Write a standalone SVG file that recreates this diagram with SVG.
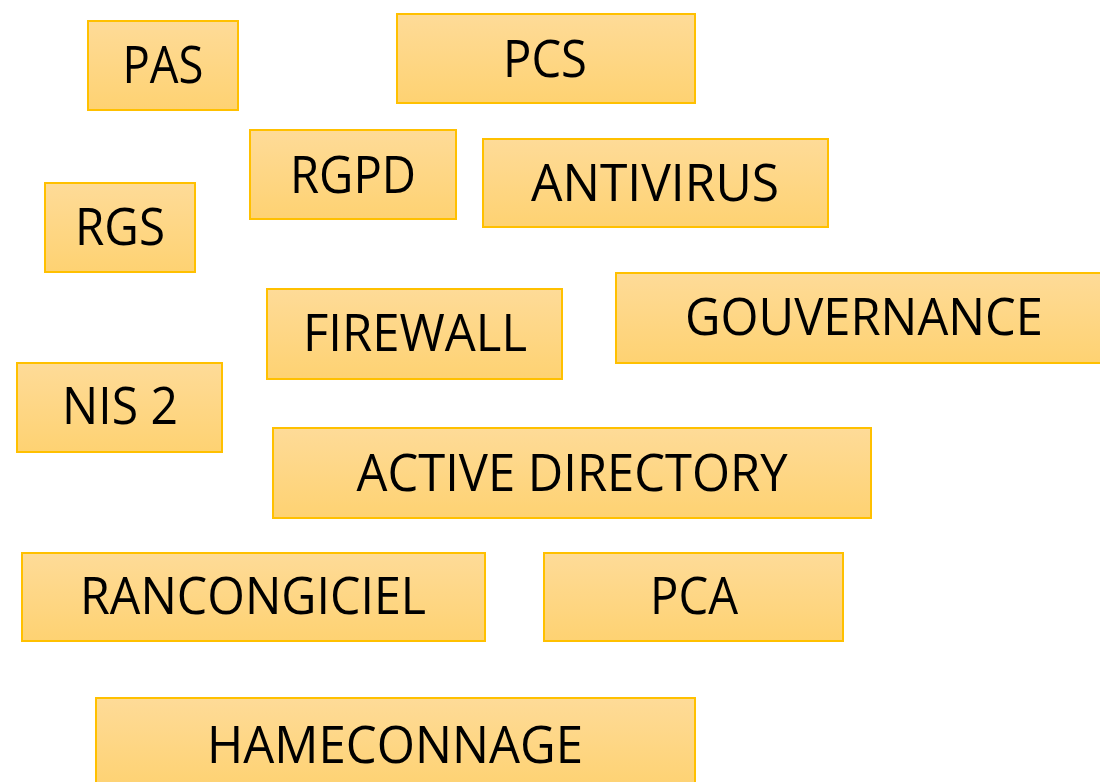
<svg xmlns="http://www.w3.org/2000/svg" width="1100" height="782" viewBox="0 0 1100 782">
<defs>
<linearGradient id="g" x1="0" y1="0" x2="0" y2="1">
<stop offset="0" stop-color="#fedb98"/>
<stop offset="1" stop-color="#fed272"/>
</linearGradient>
<style>
.b{fill:url(#g);stroke:#ffc000;stroke-width:2}
.t{font-family:"Open Sans","Liberation Sans",sans-serif;font-size:52px;fill:#000;text-anchor:middle}
</style>
</defs>
<rect width="1100" height="782" fill="#fff"/>
<g id="connectors"/>
<g id="pas"><rect class="b" x="88" y="21" width="150" height="89"/><text class="t" x="163" y="83" textLength="81" lengthAdjust="spacingAndGlyphs">PAS</text></g>
<g id="pcs"><rect class="b" x="397" y="14" width="298" height="89"/><text class="t" x="545" y="77" textLength="84" lengthAdjust="spacingAndGlyphs">PCS</text></g>
<g id="rgpd"><rect class="b" x="250" y="130" width="206" height="89"/><text class="t" x="353" y="193" textLength="126" lengthAdjust="spacingAndGlyphs">RGPD</text></g>
<g id="antivirus"><rect class="b" x="483" y="139" width="345" height="88"/><text class="t" x="655" y="201" textLength="248" lengthAdjust="spacingAndGlyphs">ANTIVIRUS</text></g>
<g id="rgs"><rect class="b" x="45" y="183" width="150" height="89"/><text class="t" x="120" y="245" textLength="90" lengthAdjust="spacingAndGlyphs">RGS</text></g>
<g id="firewall"><rect class="b" x="267" y="289" width="295" height="90"/><text class="t" x="415" y="351" textLength="224" lengthAdjust="spacingAndGlyphs">FIREWALL</text></g>
<g id="gouvernance"><rect class="b" x="616" y="273" width="490" height="90"/><text class="t" x="864" y="335" textLength="358" lengthAdjust="spacingAndGlyphs">GOUVERNANCE</text></g>
<g id="nis2"><rect class="b" x="17" y="363" width="205" height="89"/><text class="t" x="120" y="424" textLength="116" lengthAdjust="spacingAndGlyphs">NIS 2</text></g>
<g id="ad"><rect class="b" x="273" y="428" width="598" height="90"/><text class="t" x="572" y="491" textLength="431" lengthAdjust="spacingAndGlyphs">ACTIVE DIRECTORY</text></g>
<g id="rancongiciel"><rect class="b" x="22" y="553" width="463" height="88"/><text class="t" x="253" y="614" textLength="346" lengthAdjust="spacingAndGlyphs">RANCONGICIEL</text></g>
<g id="pca"><rect class="b" x="544" y="553" width="299" height="88"/><text class="t" x="694" y="614" textLength="88" lengthAdjust="spacingAndGlyphs">PCA</text></g>
<g id="hameconnage"><rect class="b" x="96" y="698" width="599" height="90"/><text class="t" x="395" y="763" textLength="376" lengthAdjust="spacingAndGlyphs">HAMECONNAGE</text></g>
</svg>
